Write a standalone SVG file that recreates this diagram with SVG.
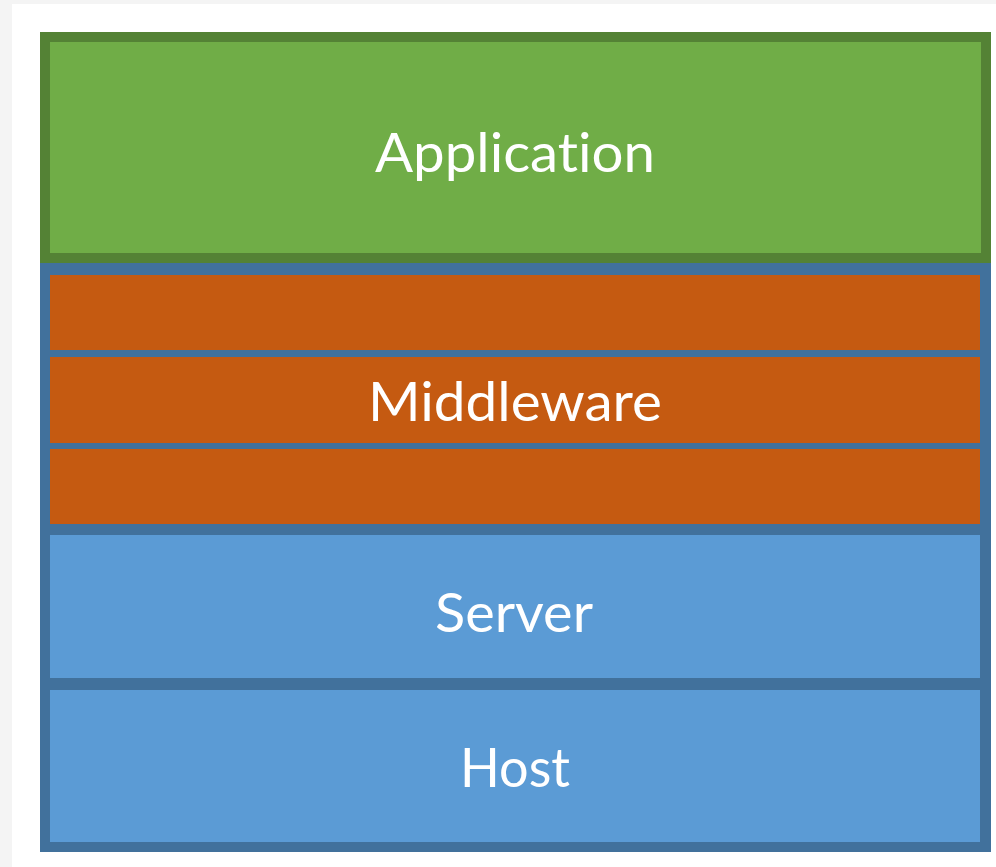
<svg xmlns="http://www.w3.org/2000/svg" width="996" height="867" viewBox="0 0 996 867">
  <style>
    .lbl { font-family: Lato, "Open Sans", "Liberation Sans", sans-serif; font-size: 54px; fill: #ffffff; text-anchor: middle; font-variant-ligatures: none; font-feature-settings: "liga" 0, "clig" 0; }
    .orange { fill: #c55a11; }
    .blue { fill: #5b9bd5; }
  </style>
  <rect x="0" y="0" width="996" height="867" fill="#f4f4f4"/>
  <rect x="12" y="4" width="984" height="863" fill="#ffffff"/>

  <g id="application">
    <rect x="45" y="37" width="941" height="221" fill="#70ad47" stroke="#548235" stroke-width="10"/>
    <text class="lbl" x="515" y="172" textLength="280" lengthAdjust="spacingAndGlyphs">Application</text>
  </g>

  <g id="stack">
    <rect x="40" y="263" width="951" height="589" fill="#41719c"/>
  </g>

  <g id="middleware">
    <rect class="orange" x="50" y="275" width="930" height="75"/>
    <rect class="orange" x="50" y="357" width="930" height="86"/>
    <rect class="orange" x="50" y="449" width="930" height="75"/>
    <text class="lbl" x="515" y="421" textLength="294" lengthAdjust="spacingAndGlyphs">Middleware</text>
  </g>

  <g id="server">
    <rect class="blue" x="50" y="535" width="930" height="143"/>
    <text class="lbl" x="514" y="632" textLength="158" lengthAdjust="spacingAndGlyphs">Server</text>
  </g>

  <g id="host">
    <rect class="blue" x="50" y="690" width="930" height="152"/>
    <text class="lbl" x="515" y="787" textLength="110" lengthAdjust="spacingAndGlyphs">Host</text>
  </g>

  <g id="connectors"></g>
</svg>
